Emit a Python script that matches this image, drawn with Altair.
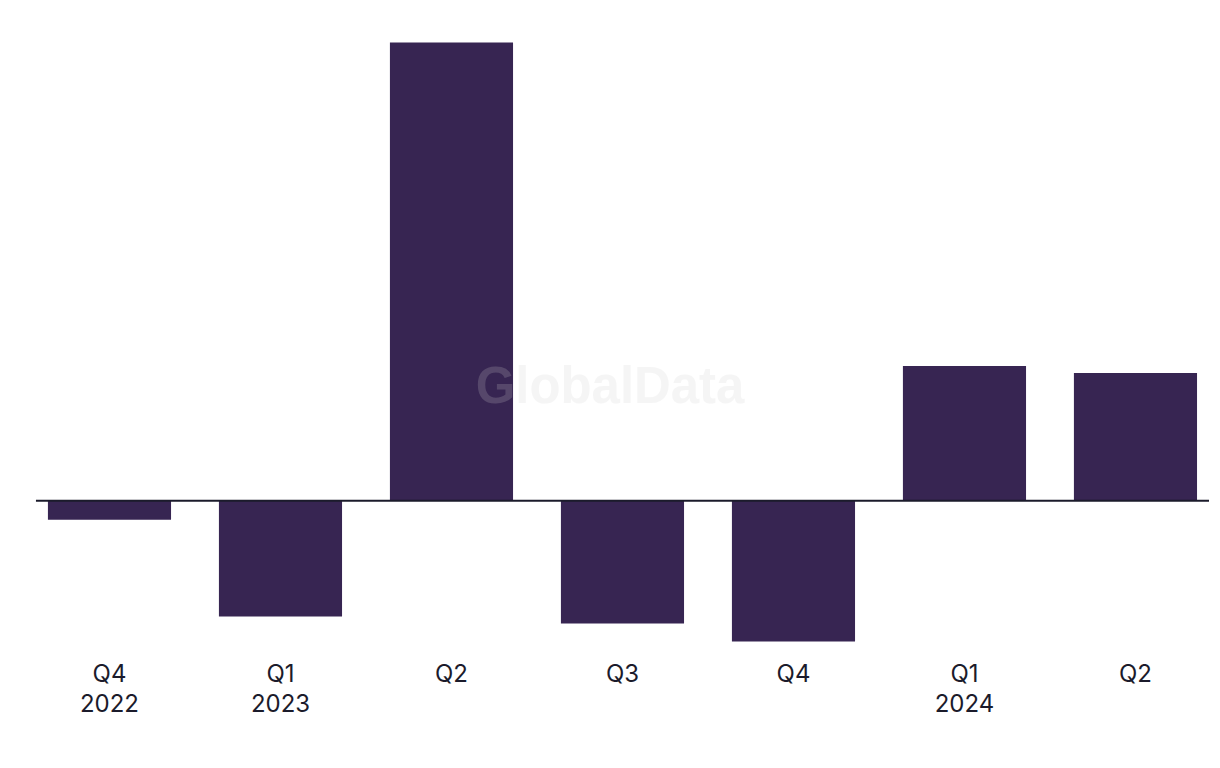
import altair as alt
import pandas as pd

# Data
periods = ["Q4 2022", "Q1 2023", "Q2 2023", "Q3 2023", "Q4 2023", "Q1 2024", "Q2 2024"]
tick_labels = [["Q4", "2022"], ["Q1", "2023"], ["Q2"], ["Q3"], ["Q4"], ["Q1", "2024"], ["Q2"]]
values = [-1.9, -11.6, 45.9, -12.3, -14.1, 13.5, 12.8]

df = pd.DataFrame({"period": periods, "value": values})

# Build a label expression mapping each period to its (possibly multi-line) label
expr = "''"
for p, lab in reversed(list(zip(periods, tick_labels))):
    arr = "[" + ",".join(f"'{s}'" for s in lab) + "]"
    expr = f"datum.value == '{p}' ? {arr} : ({expr})"

BAR = "#372552"
INK = "#1b1b2b"

x_enc = alt.X(
    "period:N",
    sort=periods,
    scale=alt.Scale(paddingInner=0.28, paddingOuter=0.07),
    axis=alt.Axis(
        title=None,
        domain=False,
        ticks=False,
        grid=False,
        labelAngle=0,
        labelExpr=expr,
        labelFont="Inter",
        labelFontSize=24,
        labelColor=INK,
        labelPadding=12,
        labelLineHeight=30,
        labelBaseline="top",
    ),
)
y_enc = alt.Y(
    "value:Q",
    scale=alt.Scale(domain=[-15, 47], nice=False, zero=True),
    axis=None,
)

bars = alt.Chart(df).mark_bar(color=BAR).encode(x=x_enc, y=y_enc)

zero = alt.Chart(pd.DataFrame({"z": [0]})).mark_rule(color=INK, strokeWidth=2).encode(
    y=alt.Y("z:Q", scale=alt.Scale(domain=[-15, 47], nice=False), axis=None)
)

watermark = alt.Chart(pd.DataFrame({"t": ["GlobalData"]})).mark_text(
    font="Liberation Sans",
    fontWeight="bold",
    fontSize=51,
    color="#d0d0d0",
    opacity=0.2,
    align="center",
    baseline="alphabetic",
).encode(text="t:N", x=alt.value(575), y=alt.value(372))

chart = (
    alt.layer(bars, zero, watermark)
    .properties(width=1175, height=620, padding={"left": 27, "top": 23, "right": 2, "bottom": 5})
    .configure(background="white")
    .configure_view(stroke="transparent", strokeWidth=0)
)

chart.save("out.html", embed_options={"renderer": "svg", "actions": False})
